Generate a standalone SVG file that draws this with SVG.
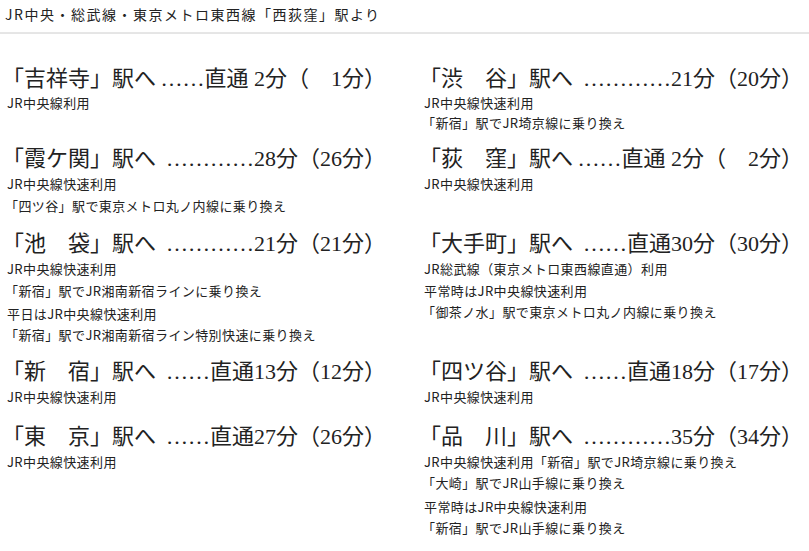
<svg xmlns="http://www.w3.org/2000/svg" width="809" height="551" viewBox="0 0 809 551">
<style>
text{font-family:"Noto Sans CJK JP","Noto Sans",sans-serif;fill:#222}
.h{font-size:14px;letter-spacing:1.5px}
.b{font-size:22px;font-family:"Liberation Serif","Noto Sans CJK JP",serif}
.s{font-size:13px;letter-spacing:0.4px}
.r{text-anchor:end}
</style>
<rect width="809" height="551" fill="#fff"/>
<text class="h" x="5" y="20">JR中央・総武線・東京メトロ東西線「西荻窪」駅より</text>
<line x1="0" y1="33" x2="809" y2="33" stroke="#ccc"/>
<g id="kichijoji"><text class="b" x="2" y="86">「吉祥寺」駅へ</text><text class="b r" x="386" y="86">……直通 2分（　1分）</text><text class="s" x="7" y="108">JR中央線利用</text></g>
<g id="kasumigaseki"><text class="b" x="2" y="166">「霞ケ関」駅へ</text><text class="b r" x="386" y="166">…………28分（26分）</text><text class="s" x="7" y="189">JR中央線快速利用</text><text class="s" x="5" y="211">「四ツ谷」駅で東京メトロ丸ノ内線に乗り換え</text></g>
<g id="ikebukuro"><text class="b" x="2" y="251">「池　袋」駅へ</text><text class="b r" x="386" y="251">…………21分（21分）</text><text class="s" x="7" y="274">JR中央線快速利用</text><text class="s" x="5" y="296">「新宿」駅でJR湘南新宿ラインに乗り換え</text><text class="s" x="7" y="319">平日はJR中央線快速利用</text><text class="s" x="5" y="340">「新宿」駅でJR湘南新宿ライン特別快速に乗り換え</text></g>
<g id="shinjuku"><text class="b" x="2" y="379">「新　宿」駅へ</text><text class="b r" x="386" y="379">……直通13分（12分）</text><text class="s" x="7" y="402">JR中央線快速利用</text></g>
<g id="tokyo"><text class="b" x="2" y="444">「東　京」駅へ</text><text class="b r" x="386" y="444">……直通27分（26分）</text><text class="s" x="7" y="467">JR中央線快速利用</text></g>
<g id="shibuya"><text class="b" x="419" y="86">「渋　谷」駅へ</text><text class="b r" x="803" y="86">…………21分（20分）</text><text class="s" x="424" y="108">JR中央線快速利用</text><text class="s" x="422" y="128">「新宿」駅でJR埼京線に乗り換え</text></g>
<g id="ogikubo"><text class="b" x="419" y="166">「荻　窪」駅へ</text><text class="b r" x="803" y="166">……直通 2分（　2分）</text><text class="s" x="424" y="189">JR中央線快速利用</text></g>
<g id="otemachi"><text class="b" x="419" y="251">「大手町」駅へ</text><text class="b r" x="803" y="251">……直通30分（30分）</text><text class="s" x="424" y="274">JR総武線（東京メトロ東西線直通）利用</text><text class="s" x="424" y="296">平常時はJR中央線快速利用</text><text class="s" x="422" y="317">「御茶ノ水」駅で東京メトロ丸ノ内線に乗り換え</text></g>
<g id="yotsuya"><text class="b" x="419" y="379">「四ツ谷」駅へ</text><text class="b r" x="803" y="379">……直通18分（17分）</text><text class="s" x="424" y="402">JR中央線快速利用</text></g>
<g id="shinagawa"><text class="b" x="419" y="444">「品　川」駅へ</text><text class="b r" x="803" y="444">…………35分（34分）</text><text class="s" x="424" y="467">JR中央線快速利用「新宿」駅でJR埼京線に乗り換え</text><text class="s" x="422" y="488">「大崎」駅でJR山手線に乗り換え</text><text class="s" x="424" y="512">平常時はJR中央線快速利用</text><text class="s" x="422" y="533">「新宿」駅でJR山手線に乗り換え</text></g>
<g id="connectors"/>
</svg>
